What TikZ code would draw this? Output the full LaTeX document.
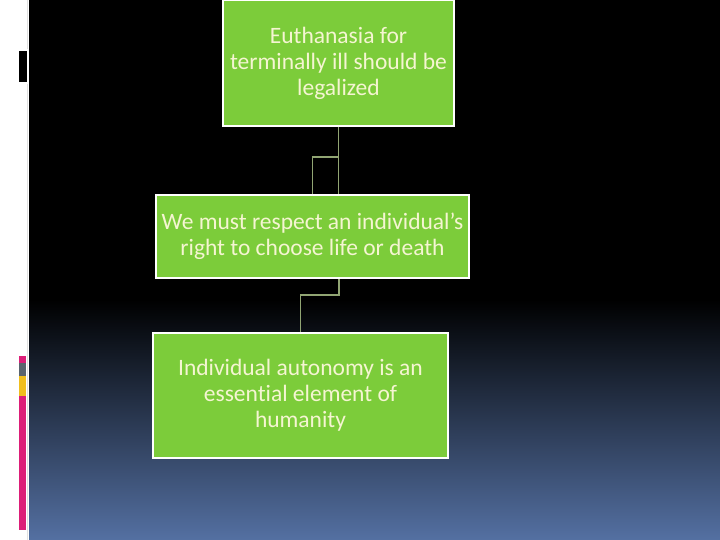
\documentclass[tikz,border=0pt]{standalone}
\usepackage{fontspec}
\newfontfamily\boxfont[Ligatures=NoCommon]{Carlito}
\definecolor{boxgreen}{RGB}{124,204,58}
\definecolor{boxtext}{RGB}{245,245,210}
\definecolor{linkgray}{RGB}{145,165,115}
\definecolor{bottomblue}{RGB}{84,112,162}
\definecolor{barpink}{RGB}{220,30,120}
\definecolor{bargray}{RGB}{90,100,110}
\definecolor{baryellow}{RGB}{240,190,30}
\begin{document}
\begin{tikzpicture}[x=1pt, y=-1pt,
  claim/.style={draw=white, line width=1.5pt, fill=boxgreen, text=boxtext, align=center,
    font=\boxfont\fontsize{23.5}{26}\selectfont, inner sep=0pt},
  link/.style={draw=linkgray, line width=1.6pt}]
\useasboundingbox (0,0) rectangle (720,540);
% background
\fill[white] (0,0) rectangle (720,540);
\fill[black] (29,0) rectangle (720,300);
\shade[top color=black, bottom color=bottomblue] (29,299.5) rectangle (720,540);
\draw[black!12, line width=0.8pt] (27,0) -- (27,540);
\filldraw[fill=black, draw=white, line width=1.2pt] (18,50) rectangle (27.5,83);
\foreach \ya/\yb/\c in {356/363/barpink, 363/376/bargray, 376/396/baryellow, 396/530/barpink}
  \fill[\c] (19,\ya) rectangle (26,\yb);
% boxes
\node[claim, minimum width=231pt, minimum height=126pt] (b1) at (338.5,63) {Euthanasia for\\terminally ill should be\\legalized};
\node[claim, minimum width=313pt, minimum height=83pt] (b2) at (312.5,236.5) {We must respect an individual’s\\right to choose life or death};
\node[claim, minimum width=295pt, minimum height=125pt] (b3) at (300.5,395.5) {Individual autonomy is an\\essential element of\\humanity};
% connectors
\coordinate (j1) at (339,157);
\coordinate (j2) at (339,295);
\draw[link] (b1.south) -- (b1.south |- b2.north);
\draw[link] (j1) -| (b2.north);
\draw[link] (b2.south -| j2) -- (j2) -| (b3.north);
\end{tikzpicture}
\end{document}
